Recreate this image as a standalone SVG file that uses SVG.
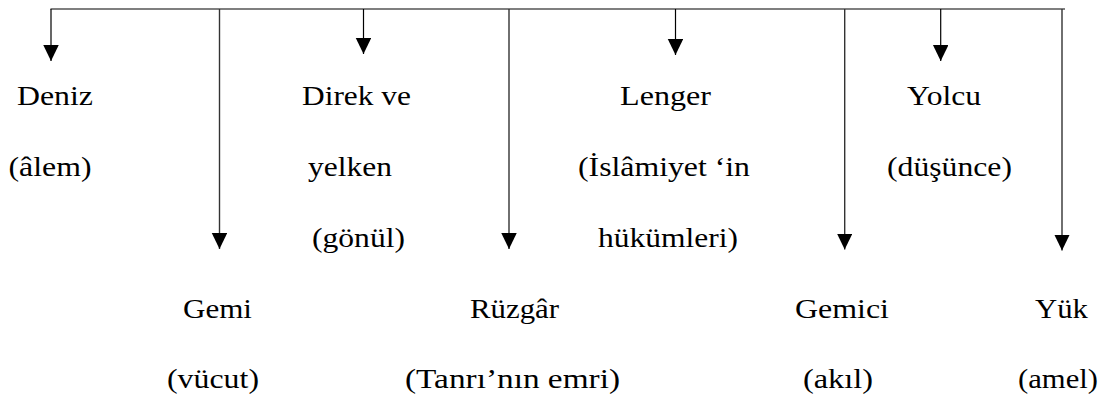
<svg xmlns="http://www.w3.org/2000/svg" width="1117" height="399" viewBox="0 0 1117 399">
<style>
text{font-family:'Liberation Serif','Times New Roman',serif;font-size:28px;fill:#000}
.s{stroke:#000;stroke-width:1.2;fill:none}
.l{stroke:#333;stroke-width:1.4;fill:none}
</style>
<defs>
<marker id="ah" markerUnits="userSpaceOnUse" markerWidth="16" markerHeight="16" viewBox="0 0 16 16" refX="16" refY="7.75" orient="auto">
<path d="M0,0 L16,7.75 L0,15.5 z" fill="#000"/>
</marker>
</defs>
<g id="connectors">
<line class="s" x1="50.5" y1="9" x2="1065" y2="9"/>
<line class="s" x1="51" y1="9" x2="51" y2="61" marker-end="url(#ah)"/>
<line class="s" x1="363.5" y1="9" x2="363.5" y2="54" marker-end="url(#ah)"/>
<line class="s" x1="675.5" y1="9" x2="675.5" y2="55" marker-end="url(#ah)"/>
<line class="s" x1="940.7" y1="9" x2="940.7" y2="61" marker-end="url(#ah)"/>
<line class="l" x1="219.5" y1="9" x2="219.5" y2="249" marker-end="url(#ah)"/>
<line class="l" x1="509" y1="9" x2="509" y2="249" marker-end="url(#ah)"/>
<line class="l" x1="844.7" y1="9" x2="844.7" y2="249.5" marker-end="url(#ah)"/>
<line class="l" x1="1062" y1="9" x2="1062" y2="250.5" marker-end="url(#ah)"/>
</g>
<g id="deniz">
<text x="17" y="105" textLength="76" lengthAdjust="spacingAndGlyphs">Deniz</text>
<text x="8.5" y="176" textLength="83" lengthAdjust="spacingAndGlyphs">(âlem)</text>
</g>
<g id="gemi">
<text x="183" y="318" textLength="69" lengthAdjust="spacingAndGlyphs">Gemi</text>
<text x="167" y="388" textLength="92" lengthAdjust="spacingAndGlyphs">(vücut)</text>
</g>
<g id="direk">
<text x="302" y="105" textLength="109" lengthAdjust="spacingAndGlyphs">Direk ve</text>
<text x="308" y="176" textLength="84" lengthAdjust="spacingAndGlyphs">yelken</text>
<text x="312" y="247" textLength="93" lengthAdjust="spacingAndGlyphs">(gönül)</text>
</g>
<g id="ruzgar">
<text x="470" y="318" textLength="89" lengthAdjust="spacingAndGlyphs">Rüzgâr</text>
<text x="405" y="388" textLength="215" lengthAdjust="spacingAndGlyphs">(Tanrı’nın emri)</text>
</g>
<g id="lenger">
<text x="620" y="105" textLength="91" lengthAdjust="spacingAndGlyphs">Lenger</text>
<text x="578" y="176" textLength="172" lengthAdjust="spacingAndGlyphs">(İslâmiyet ‘in</text>
<text x="598" y="247" textLength="140" lengthAdjust="spacingAndGlyphs">hükümleri)</text>
</g>
<g id="gemici">
<text x="795" y="318" textLength="94" lengthAdjust="spacingAndGlyphs">Gemici</text>
<text x="803" y="388" textLength="70" lengthAdjust="spacingAndGlyphs">(akıl)</text>
</g>
<g id="yolcu">
<text x="907" y="105" textLength="74" lengthAdjust="spacingAndGlyphs">Yolcu</text>
<text x="887" y="176" textLength="125" lengthAdjust="spacingAndGlyphs">(düşünce)</text>
</g>
<g id="yuk">
<text x="1035" y="318" textLength="53" lengthAdjust="spacingAndGlyphs">Yük</text>
<text x="1018" y="388" textLength="80" lengthAdjust="spacingAndGlyphs">(amel)</text>
</g>
</svg>
